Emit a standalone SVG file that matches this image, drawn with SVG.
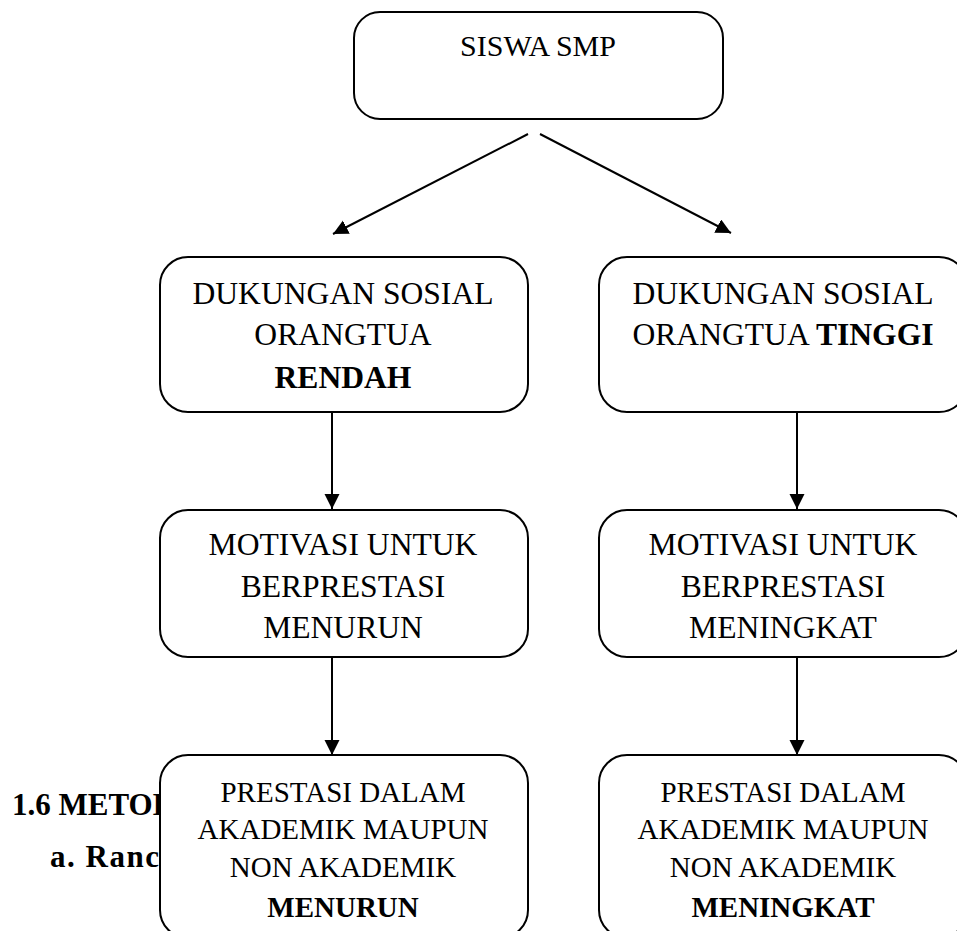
<svg xmlns="http://www.w3.org/2000/svg" width="957" height="931" viewBox="0 0 957 931">
<defs>
<style>
.box{fill:#fff;stroke:#000;stroke-width:2}
.t{font-family:"Liberation Serif","Times New Roman",serif;fill:#000;text-anchor:middle}
.s29{font-size:29px}
.s30{font-size:30px}
.s31{font-size:31.6px}
.b{font-weight:bold}
.head{font-family:"Liberation Serif","Times New Roman",serif;font-size:31px;font-weight:bold;fill:#000}
.conn{stroke:#000;stroke-width:2;fill:none;marker-end:url(#arr)}
</style>
<marker id="arr" markerUnits="userSpaceOnUse" markerWidth="16" markerHeight="16" refX="15" refY="7.5" orient="auto">
<path d="M0,0 L15,7.5 L0,15 Z" fill="#000"/>
</marker>
<clipPath id="leftclip"><rect x="0" y="760" width="160" height="171"/></clipPath>
</defs>
<rect width="957" height="931" fill="#fff"/>
<g id="page-text" clip-path="url(#leftclip)">
<text class="head" x="12" y="815">1.6 METODE</text>
<text class="head" x="50" y="867" letter-spacing="1.5">a. Rancangan</text>
</g>
<g id="connectors">
<line class="conn" x1="528" y1="134" x2="333" y2="234"/>
<line class="conn" x1="540" y1="134" x2="731" y2="233"/>
<line class="conn" x1="332" y1="412" x2="332" y2="509"/>
<line class="conn" x1="797" y1="412" x2="797" y2="509"/>
<line class="conn" x1="332" y1="657" x2="332" y2="755"/>
<line class="conn" x1="797" y1="657" x2="797" y2="755"/>
</g>
<g id="n-siswa">
<rect class="box" x="354" y="12" width="369" height="107" rx="26"/>
<text class="t s30" x="538" y="56">SISWA SMP</text>
</g>
<g id="n-dukungan-rendah">
<rect class="box" x="160" y="257" width="368" height="155" rx="28"/>
<text class="t s31" x="343" y="304">DUKUNGAN SOSIAL</text>
<text class="t s31" x="343" y="345">ORANGTUA</text>
<text class="t s31 b" x="343" y="388">RENDAH</text>
</g>
<g id="n-dukungan-tinggi">
<rect class="box" x="599" y="257" width="368" height="155" rx="28"/>
<text class="t s31" x="783" y="304">DUKUNGAN SOSIAL</text>
<text class="t s31" x="783" y="345">ORANGTUA <tspan class="b">TINGGI</tspan></text>
</g>
<g id="n-motivasi-menurun">
<rect class="box" x="160" y="510" width="368" height="147" rx="28"/>
<text class="t s31" x="343" y="555">MOTIVASI UNTUK</text>
<text class="t s31" x="343" y="597">BERPRESTASI</text>
<text class="t s31" x="343" y="638">MENURUN</text>
</g>
<g id="n-motivasi-meningkat">
<rect class="box" x="599" y="510" width="368" height="147" rx="28"/>
<text class="t s31" x="783" y="555">MOTIVASI UNTUK</text>
<text class="t s31" x="783" y="597">BERPRESTASI</text>
<text class="t s31" x="783" y="638">MENINGKAT</text>
</g>
<g id="n-prestasi-menurun">
<rect class="box" x="160" y="755" width="368" height="183" rx="28"/>
<text class="t s29" x="343" y="802">PRESTASI DALAM</text>
<text class="t s29" x="343" y="839">AKADEMIK MAUPUN</text>
<text class="t s29" x="343" y="877">NON AKADEMIK</text>
<text class="t s29 b" x="343" y="917">MENURUN</text>
</g>
<g id="n-prestasi-meningkat">
<rect class="box" x="599" y="755" width="368" height="183" rx="28"/>
<text class="t s29" x="783" y="802">PRESTASI DALAM</text>
<text class="t s29" x="783" y="839">AKADEMIK MAUPUN</text>
<text class="t s29" x="783" y="877">NON AKADEMIK</text>
<text class="t s29 b" x="783" y="917">MENINGKAT</text>
</g>
</svg>
